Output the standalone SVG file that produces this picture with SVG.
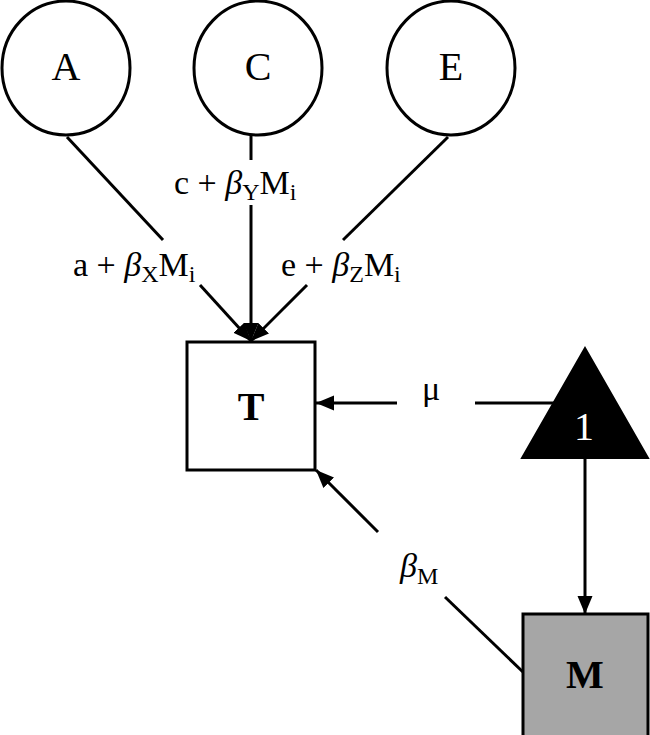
<svg xmlns="http://www.w3.org/2000/svg" width="650" height="735" viewBox="0 0 650 735">
<style>
.n{fill:#fff;stroke:#000;stroke-width:3}
.c{fill:none;stroke:#000;stroke-width:3}
.t{font-family:"Liberation Serif","Times New Roman",serif;fill:#000}
.lab{font-size:40px;text-anchor:middle}
.el{font-size:34px}
.sub{font-size:24px}
.b{font-weight:bold}
</style>
<defs>
<marker id="ah" markerUnits="userSpaceOnUse" markerWidth="20" markerHeight="16" refX="18" refY="7.5" orient="auto">
<path d="M0,0 L18,7.5 L0,15 z" fill="#000"/>
</marker>
</defs>
<rect width="650" height="735" fill="#fff"/>
<g id="connectors">
<line class="c" x1="67" y1="137" x2="163" y2="240"/>
<line class="c" x1="200" y1="285" x2="251" y2="341" marker-end="url(#ah)"/>
<line class="c" x1="251" y1="136" x2="251" y2="160"/>
<line class="c" x1="251" y1="205" x2="251" y2="341" marker-end="url(#ah)"/>
<line class="c" x1="448" y1="137" x2="343" y2="240"/>
<line class="c" x1="307" y1="285" x2="251" y2="341" marker-end="url(#ah)"/>
<line class="c" x1="560" y1="403" x2="475" y2="403"/>
<line class="c" x1="397" y1="403" x2="316" y2="403" marker-end="url(#ah)"/>
<line class="c" x1="585" y1="458" x2="585" y2="614" marker-end="url(#ah)"/>
<line class="c" x1="523" y1="672" x2="445" y2="597"/>
<line class="c" x1="378" y1="532" x2="316" y2="470" marker-end="url(#ah)"/>
<text class="t el" x="73" y="276">a + <tspan font-style="italic">β</tspan><tspan class="sub" dy="6">X</tspan><tspan dy="-6">M</tspan><tspan class="sub" dy="6">i</tspan></text>
<text class="t el" x="174" y="194">c + <tspan font-style="italic">β</tspan><tspan class="sub" dy="6">Y</tspan><tspan dy="-6">M</tspan><tspan class="sub" dy="6">i</tspan></text>
<text class="t el" x="281" y="276">e + <tspan font-style="italic">β</tspan><tspan class="sub" dy="6">Z</tspan><tspan dy="-6">M</tspan><tspan class="sub" dy="6">i</tspan></text>
<text class="t el" x="431" y="400" text-anchor="middle">μ</text>
<text class="t el" x="400" y="577"><tspan font-style="italic">β</tspan><tspan class="sub" dy="7">M</tspan></text>
</g>
<g id="A"><ellipse class="n" cx="66" cy="68" rx="64" ry="67"/><text class="t lab" x="66" y="80">A</text></g>
<g id="C"><ellipse class="n" cx="258" cy="68" rx="64" ry="67"/><text class="t lab" x="258" y="80">C</text></g>
<g id="E"><ellipse class="n" cx="451" cy="68" rx="64" ry="67"/><text class="t lab" x="451" y="80">E</text></g>
<g id="T"><rect class="n" x="187" y="342" width="128" height="128"/><text class="t lab b" x="251" y="420">T</text></g>
<g id="one"><polygon points="585,348 522,458 648,458" fill="#000" stroke="#000" stroke-width="2"/><text class="t lab" x="584" y="440" style="fill:#fff">1</text></g>
<g id="M"><rect x="523" y="614" width="125" height="125" fill="#a6a6a6" stroke="#000" stroke-width="3"/><text class="t lab b" x="585" y="688">M</text></g>
</svg>
